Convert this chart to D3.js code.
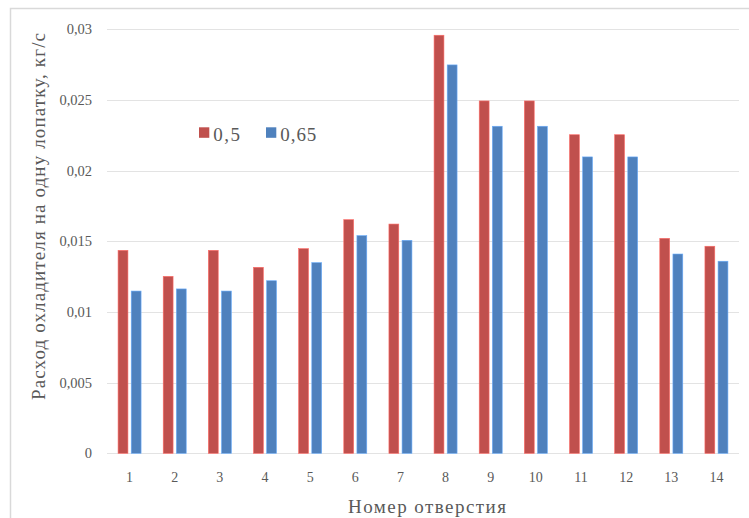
<!DOCTYPE html>
<html><head><meta charset="utf-8">
<script src="https://cdn.jsdelivr.net/npm/d3@7"></script>
</head><body style="margin:0;background:#fff">
<svg id="c" width="749" height="518"></svg>
<script>
const categories = ["1","2","3","4","5","6","7","8","9","10","11","12","13","14"];
const seriesNames = ["0,5","0,65"];
const values05  = [0.01436,0.01252,0.01436,0.01316,0.01448,0.01653,0.01622,0.02958,0.02493,0.02493,0.02254,0.02254,0.01521,0.01465];
const values065 = [0.01148,0.01163,0.01148,0.01221,0.01349,0.01540,0.01507,0.02748,0.02314,0.02314,0.02097,0.02097,0.01410,0.01359];
const yTicks = [0,0.005,0.01,0.015,0.02,0.025,0.03];
const yTickLabels = ["0","0,005","0,01","0,015","0,02","0,025","0,03"];
const colors = ["#c0504d","#4f81bd"];
const FONT = "Liberation Serif";

(function(){
const svg = d3.select("#c");
svg.append("rect").attr("x",10.5).attr("y",8.5).attr("width",760).attr("height",530)
  .attr("fill","none").attr("stroke","#d9d9d9").attr("stroke-width",1.5);

const pL=107, pR=739, pT=29.3, pB=453.3;
const x = d3.scaleBand().domain(categories).range([pL,pR]).padding(0);
const y = d3.scaleLinear().domain([0,0.03]).range([pB,pT]);
const xs = d3.scaleBand().domain(seriesNames).range([-11.5,11.5]).paddingInner(0.25);

svg.append("g").selectAll("line").data(yTicks).join("line")
  .attr("x1",pL).attr("x2",pR).attr("y1",d=>Math.round(y(d))+0.5).attr("y2",d=>Math.round(y(d))+0.5)
  .attr("stroke","#e3e3e3").attr("stroke-width",1);

svg.append("g").selectAll("text").data(yTicks).join("text")
  .attr("font-family",FONT)
  .attr("x",92).attr("y",d=>y(d)).attr("dy","0.35em").attr("text-anchor","end")
  .attr("font-size",14.5).attr("fill","#595959").text((d,i)=>yTickLabels[i]);

const data = [values05, values065];
data.forEach((vals,si)=>{
  svg.append("g").selectAll("rect").data(vals).join("rect")
    .attr("x",(d,i)=>x(categories[i])+x.bandwidth()/2+xs(seriesNames[si]))
    .attr("width",xs.bandwidth())
    .attr("y",d=>y(d)).attr("height",d=>y(0)-y(d))
    .attr("fill",colors[si])
    .attr("stroke",d3.color(colors[si]).brighter(0.8)).attr("stroke-width",0.6);
});

svg.append("g").selectAll("text").data(categories).join("text")
  .attr("font-family",FONT)
  .attr("x",d=>x(d)+x.bandwidth()/2).attr("y",481.5).attr("text-anchor","middle")
  .attr("font-size",14).attr("fill","#595959").text(d=>d);

svg.append("text").attr("font-family",FONT).attr("x",427).attr("y",513).attr("text-anchor","middle")
  .attr("font-size",19).attr("fill","#595959")
  .attr("textLength",158).attr("lengthAdjust","spacing").text("Номер отверстия");
svg.append("text").attr("font-family",FONT).attr("transform","translate(45,216.5) rotate(-90)").attr("text-anchor","middle")
  .attr("font-size",19).attr("fill","#595959")
  .attr("textLength",367).attr("lengthAdjust","spacing").text("Расход охладителя на одну лопатку, кг/с");

const lg = svg.append("g");
const legX = [199,266];
const legW = [26.7,36];
seriesNames.forEach((s,i)=>{
  lg.append("rect").attr("x",legX[i]).attr("y",127.3).attr("width",10.3).attr("height",10.5).attr("fill",colors[i]);
  lg.append("text").attr("font-family",FONT).attr("x",legX[i]+14.3).attr("y",140.5).attr("font-size",19).attr("fill","#595959")
    .attr("textLength",legW[i]).attr("lengthAdjust","spacing").text(s);
});
})();
</script>
</body></html>
